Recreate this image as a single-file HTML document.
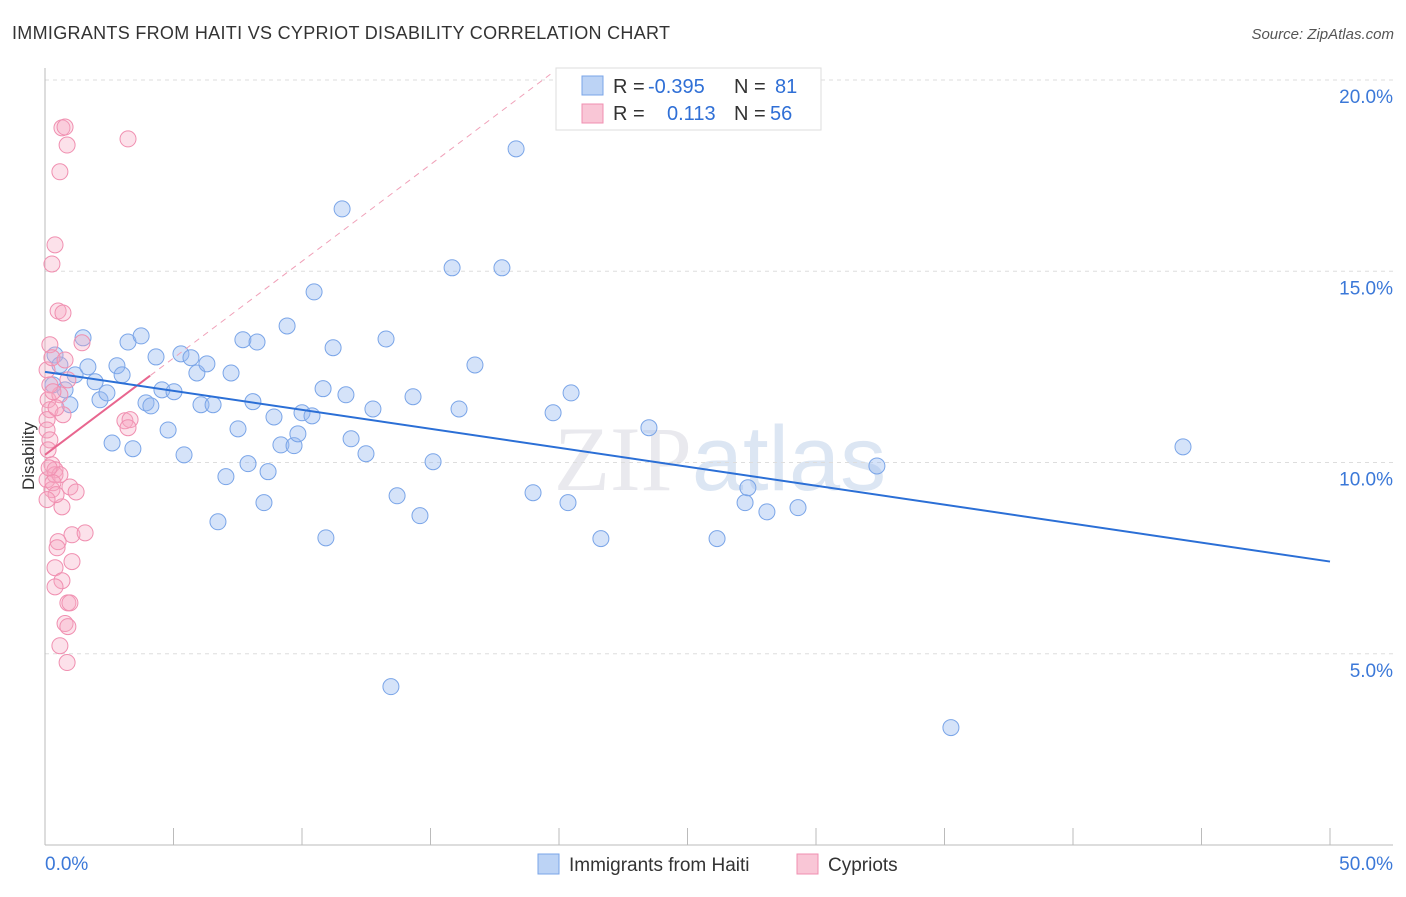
<!DOCTYPE html>
<html><head><meta charset="utf-8"><style>
body{margin:0;background:#fff;font-family:"Liberation Sans",sans-serif;}
</style></head><body>
<svg id="chart" width="1406" height="892" xmlns="http://www.w3.org/2000/svg">
<text x="12" y="39" font-size="18" fill="#333" textLength="658">IMMIGRANTS FROM HAITI VS CYPRIOT DISABILITY CORRELATION CHART</text>
<text x="1394" y="39" font-size="15" fill="#555" font-style="italic" text-anchor="end">Source: ZipAtlas.com</text>
<text x="720" y="490" font-size="92" fill="#e9e9ee" text-anchor="middle" font-family="Liberation Serif,serif">ZIP<tspan font-family="Liberation Sans,sans-serif" fill="#dce6f3">atlas</tspan></text>
<g id="grid"></g><g id="axes"></g><g id="marks"></g>
<text x="34" y="456" font-size="17" fill="#333" text-anchor="middle" transform="rotate(-90 34 456)">Disability</text>
<g>
<rect x="556" y="68" width="265" height="62" fill="#fff" stroke="#ddd"/>
<rect x="582" y="76" width="21" height="19" fill="#bcd3f5" stroke="#7aa5e8"/>
<rect x="582" y="104" width="21" height="19" fill="#f9c6d6" stroke="#f08fb0"/>
<text x="613" y="93" font-size="20" fill="#333">R = <tspan fill="#2f6fd6" x="648">-0.395</tspan></text>
<text x="734" y="93" font-size="20" fill="#333">N = <tspan fill="#2f6fd6" x="775">81</tspan></text>
<text x="613" y="120" font-size="20" fill="#333">R = <tspan fill="#2f6fd6" x="667">0.113</tspan></text>
<text x="734" y="120" font-size="20" fill="#333">N = <tspan fill="#2f6fd6" x="770">56</tspan></text>
</g>
<g>
<rect x="538" y="854" width="21" height="20" fill="#bcd3f5" stroke="#7aa5e8"/>
<text x="569" y="871" font-size="19" fill="#333">Immigrants from Haiti</text>
<rect x="797" y="854" width="21" height="20" fill="#f9c6d6" stroke="#f08fb0"/>
<text x="828" y="871" font-size="19" fill="#333">Cypriots</text>
</g>
</svg>
<script>
const blueX=[0.39,0.58,0.31,0.78,0.97,1.17,1.48,1.67,1.95,2.14,2.41,2.61,2.80,3.00,3.23,3.42,3.74,3.93,4.12,4.32,4.55,4.79,5.02,5.29,5.41,5.68,5.91,6.07,6.30,6.54,6.73,7.04,7.24,7.51,7.70,7.90,8.09,8.25,8.52,8.68,8.91,9.18,9.42,9.69,9.84,10.00,10.39,10.47,10.82,10.93,11.21,11.56,11.71,11.91,12.49,12.76,13.27,13.46,13.70,14.32,14.59,15.10,15.84,16.11,16.73,17.78,18.33,18.99,19.77,20.35,20.47,21.63,23.50,26.15,27.24,27.35,28.09,29.30,32.37,35.25,44.28];
const blueY=[12.81,12.55,12.03,11.90,11.51,12.29,13.26,12.50,12.11,11.64,11.82,10.51,12.53,12.29,13.15,10.36,13.31,11.56,11.48,12.76,11.90,10.85,11.85,12.84,10.20,12.74,12.34,11.51,12.58,11.51,8.45,9.63,12.34,10.88,13.21,9.97,11.59,13.15,8.95,9.76,11.19,10.46,13.57,10.44,10.75,11.30,11.22,14.46,11.93,8.03,13.00,16.63,11.77,10.62,10.23,11.40,13.23,4.14,9.13,11.72,8.61,10.02,15.09,11.40,12.55,15.09,18.20,9.21,11.30,8.95,11.82,8.01,10.91,8.01,8.95,9.34,8.71,8.82,9.91,3.07,10.41];
const pinkX=[0.08,0.19,0.27,0.12,0.19,0.08,0.08,0.19,0.12,0.27,0.39,0.08,0.27,0.39,0.58,0.70,0.78,0.89,0.58,0.66,0.86,0.78,0.58,0.39,0.27,0.51,0.70,1.44,3.23,3.11,3.31,3.23,0.97,1.21,0.66,1.05,1.56,0.51,0.47,1.05,0.39,0.66,0.39,0.89,0.97,0.78,0.89,0.58,0.86,0.19,0.31,0.43,0.16,0.31,0.43,0.08];
const pinkY=[12.42,13.08,12.74,11.64,11.38,11.12,10.85,10.59,10.33,9.94,9.81,9.55,9.29,9.68,9.68,11.25,12.68,12.16,11.77,18.75,18.30,18.77,17.60,15.69,15.19,13.96,13.91,13.13,18.46,11.09,11.12,10.91,9.36,9.23,8.84,8.11,8.16,7.93,7.77,7.41,7.25,6.91,6.75,6.33,6.33,5.79,5.71,5.21,4.77,12.03,11.85,11.43,9.86,9.47,9.16,9.03];
const blueTrend=[12.37,7.41]; // value at x=0 and x=50
const pinkTrend=[10.20,0.506]; // intercept, slope
const yTicks=[5,10,15,20];
const xTickLabels=["0.0%","50.0%"];

const NS="http://www.w3.org/2000/svg";
const sx=v=>45+v/50*1285;
const sy=v=>845-v*38.25;
function mk(tag,attrs,parent){const e=document.createElementNS(NS,tag);for(const k in attrs)e.setAttribute(k,attrs[k]);document.getElementById(parent).appendChild(e);return e;}
yTicks.forEach(t=>{
  const l=mk('line',{x1:45,x2:1393,y1:sy(t),y2:sy(t),stroke:'#ddd','stroke-dasharray':'4 4'},'grid');
  
  
  const tx=mk('text',{x:1393,y:sy(t)+23,'font-size':19,fill:'#3b78d8','text-anchor':'end'},'axes');
  tx.textContent=t.toFixed(1)+'%';
  
  
});
const xa=mk('line',{x1:45,x2:1393,y1:845,y2:845,stroke:'#bbb'},'axes');


const ya=mk('line',{x1:45,x2:45,y1:68,y2:845,stroke:'#bbb'},'axes');


for(let i=0;i<=10;i++){
  const t=mk('line',{x1:sx(i*5),x2:sx(i*5),y1:828,y2:845,stroke:'#bbb'},'axes');
  
  
}
[[0,xTickLabels[0],'start'],[50,xTickLabels[1],'end']].forEach(([v,s,a])=>{
  const t=mk('text',{x:a==='start'?sx(v):1393,y:870,'font-size':19,fill:'#3b78d8','text-anchor':a},'axes');
  t.textContent=s;
  
  
});
blueX.forEach((x,i)=>{
  const c=mk('circle',{cx:sx(x),cy:sy(blueY[i]),r:8,fill:'rgba(150,185,240,0.4)',stroke:'#7aa5e8','stroke-width':1},'marks');
  
  
});
pinkX.forEach((x,i)=>{
  const c=mk('circle',{cx:sx(x),cy:sy(pinkY[i]),r:8,fill:'rgba(245,170,195,0.35)',stroke:'#f08fb0','stroke-width':1},'marks');
  
  
});
const xe=(20.15-pinkTrend[0])/pinkTrend[1];
const pd=mk('line',{x1:sx(0),y1:sy(pinkTrend[0]),x2:sx(xe),y2:sy(pinkTrend[0]+pinkTrend[1]*xe),stroke:'#f0a0b8','stroke-dasharray':'6 5','stroke-width':1},'marks');


const ps=mk('line',{x1:sx(0),y1:sy(pinkTrend[0]),x2:sx(4.09),y2:sy(pinkTrend[0]+pinkTrend[1]*4.09),stroke:'#e8668f','stroke-width':2},'marks');


const bl=mk('line',{x1:sx(0),y1:sy(blueTrend[0]),x2:sx(50),y2:sy(blueTrend[1]),stroke:'#2b6fd6','stroke-width':2},'marks');


</script>
</body></html>
